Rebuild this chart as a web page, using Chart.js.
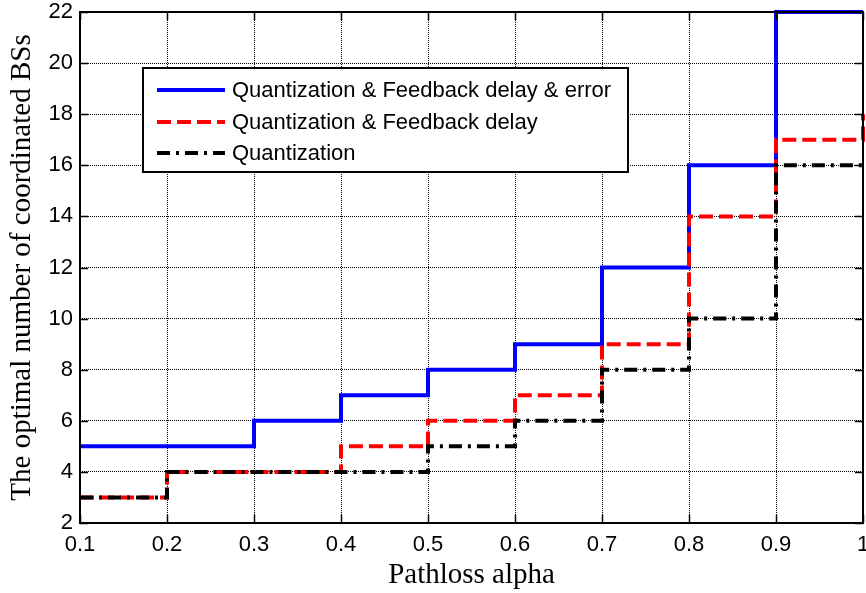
<!DOCTYPE html>
<html>
<head>
<meta charset="utf-8">
<script src="https://cdn.jsdelivr.net/npm/chart.js@4/dist/chart.umd.min.js"></script>
<style>
  html, body { margin: 0; padding: 0; background: #ffffff; }
  canvas { display: block; }
</style>
</head>
<body>
<canvas id="c" width="866" height="593"></canvas>
<script>
// ---- data ----
const alpha = [0.1, 0.2, 0.3, 0.4, 0.5, 0.6, 0.7, 0.8, 0.9, 1.0];
const xTickLabels = ['0.1', '0.2', '0.3', '0.4', '0.5', '0.6', '0.7', '0.8', '0.9', '1'];
const yTickLabels = ['2', '4', '6', '8', '10', '12', '14', '16', '18', '20', '22'];
const seriesNames = [
  'Quantization & Feedback delay & error',
  'Quantization & Feedback delay',
  'Quantization'
];
const quantDelayError = [5, 5, 6, 7, 8, 9, 12, 16, 22, 22];
const quantDelay      = [3, 4, 4, 5, 6, 7, 9, 14, 17, 18];
const quantOnly       = [3, 4, 4, 4, 5, 6, 8, 10, 16, 16];

const SANS = '"Liberation Sans", Arial, sans-serif';
const SERIF = '"Liberation Serif", "Times New Roman", serif';

function pts(vals) { return alpha.map((a, i) => ({ x: a, y: vals[i] })); }

const styles = [
  { color: '#0000ff', dash: [] },
  { color: '#ff0000', dash: [14, 6] },
  { color: '#000000', dash: [13, 6, 3, 6] }
];
const seriesVals = [quantDelayError, quantDelay, quantOnly];

const datasets = seriesVals.map((v, i) => ({
  label: seriesNames[i],
  data: pts(v),
  stepped: 'before',
  borderColor: styles[i].color,
  backgroundColor: styles[i].color,
  borderWidth: 4,
  borderDash: styles[i].dash,
  borderCapStyle: 'butt',
  borderJoinStyle: 'miter',
  pointRadius: 0,
  fill: false,
  clip: 6,
  order: 2 - i
}));

const frame = {
  id: 'frame',
  afterDatasetsDraw(chart) {
    const { ctx, chartArea: a, scales: { x, y } } = chart;
    ctx.save();
    ctx.strokeStyle = '#000';
    // inward ticks
    ctx.lineWidth = 1.5;
    const tl = 8;
    ctx.beginPath();
    x.ticks.forEach(t => {
      const px = Math.round(x.getPixelForValue(t.value)) + 0.5;
      ctx.moveTo(px, a.bottom); ctx.lineTo(px, a.bottom - tl);
      ctx.moveTo(px, a.top); ctx.lineTo(px, a.top + tl);
    });
    y.ticks.forEach(t => {
      const py = Math.round(y.getPixelForValue(t.value)) + 0.5;
      ctx.moveTo(a.left, py); ctx.lineTo(a.left + tl, py);
      ctx.moveTo(a.right, py); ctx.lineTo(a.right - tl, py);
    });
    ctx.stroke();
    // box
    ctx.lineWidth = 2;
    ctx.strokeRect(a.left, a.top, a.right - a.left, a.bottom - a.top);

    // legend
    const L = 143, T = 68, R = 628, B = 172;
    ctx.fillStyle = '#fff';
    ctx.fillRect(L, T, R - L, B - T);
    ctx.lineWidth = 2;
    ctx.strokeRect(L, T, R - L, B - T);
    const rows = [90, 122, 153];
    ctx.font = '22px ' + SANS;
    ctx.textBaseline = 'middle';
    ctx.textAlign = 'left';
    chart.data.datasets.forEach((ds, i) => {
      const yy = rows[i];
      ctx.save();
      ctx.strokeStyle = ds.borderColor;
      ctx.lineWidth = 4;
      ctx.lineCap = 'butt';
      ctx.setLineDash(ds.borderDash);
      ctx.beginPath();
      ctx.moveTo(157, yy); ctx.lineTo(225, yy);
      ctx.stroke();
      ctx.restore();
      ctx.fillStyle = '#000';
      ctx.fillText(ds.label, 232, yy + 1);
    });
    ctx.restore();
  }
};

new Chart(document.getElementById('c'), {
  type: 'line',
  data: { datasets },
  options: {
    responsive: false,
    animation: false,
    devicePixelRatio: 1,
    layout: { padding: { top: 12, right: 3, left: 0, bottom: 0 } },
    plugins: { legend: { display: false }, tooltip: { enabled: false } },
    scales: {
      x: {
        type: 'linear',
        min: 0.1,
        max: 1.0,
        afterBuildTicks(s) { s.ticks = alpha.map(v => ({ value: v })); },
        afterFit(s) { s.height = 70; s.paddingLeft = 0; s.paddingRight = 0; },
        ticks: {
          color: '#000',
          font: { family: SANS, size: 22 },
          padding: 9,
          maxRotation: 0,
          autoSkip: false,
          callback: (v, i) => xTickLabels[i]
        },
        grid: { color: '#000', lineWidth: 1, drawTicks: false },
        border: { display: false, dash: [1, 1] },
        title: {
          display: true,
          text: 'Pathloss alpha',
          color: '#000',
          font: { family: SERIF, size: 29, lineHeight: 1.2 },
          padding: { top: 0, bottom: 0 }
        }
      },
      y: {
        type: 'linear',
        min: 2,
        max: 22,
        afterBuildTicks(s) { s.ticks = yTickLabels.map(t => ({ value: Number(t) })); },
        afterFit(s) { s.width = 80; s.paddingTop = 0; s.paddingBottom = 0; },
        ticks: {
          color: '#000',
          font: { family: SANS, size: 22 },
          padding: 7,
          autoSkip: false,
          callback: (v, i) => yTickLabels[i]
        },
        grid: { color: '#000', lineWidth: 1, drawTicks: false },
        border: { display: false, dash: [1, 1] },
        title: {
          display: true,
          text: 'The optimal number of coordinated BSs',
          color: '#000',
          font: { family: SERIF, size: 29, lineHeight: 1.2 },
          padding: { top: 5, bottom: 0 }
        }
      }
    }
  },
  plugins: [frame]
});
</script>
</body>
</html>
